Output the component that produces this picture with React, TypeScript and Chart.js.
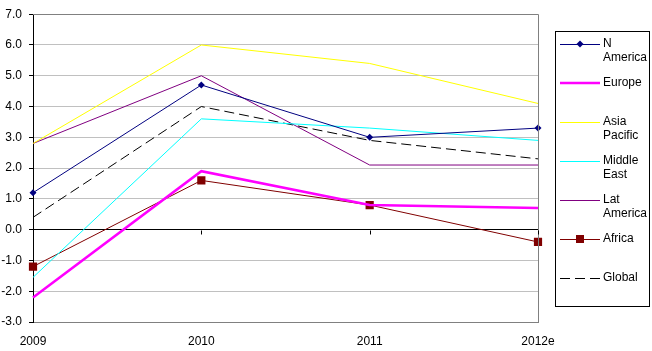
import React, { useEffect, useRef } from 'react';
import { Chart, registerables } from 'chart.js';

Chart.register(...registerables);

const categories = ['2009', '2010', '2011', '2012e'];
const nAmerica = [1.2, 4.7, 3.0, 3.3];
const europe = [-2.2, 1.9, 0.8, 0.7];
const asiaPacific = [2.8, 6.0, 5.4, 4.1];
const middleEast = [-1.55, 3.6, 3.3, 2.9];
const latAmerica = [2.8, 5.0, 2.1, 2.1];
const africa = [-1.2, 1.6, 0.8, -0.4];
const globalAvg = [0.4, 4.0, 2.9, 2.3];
const yMin = -3;
const yMax = 7;

const FONT = '"Liberation Sans", Arial, sans-serif';

const series = [
  { label: ['N', 'America'], data: nAmerica, color: '#000080', width: 1, point: 'rectRot', radius: 3.5, dash: [] as number[] },
  { label: ['Europe'], data: europe, color: '#FF00FF', width: 2.5, point: 'none', radius: 0, dash: [] as number[] },
  { label: ['Asia', 'Pacific'], data: asiaPacific, color: '#FFFF00', width: 1, point: 'none', radius: 0, dash: [] as number[] },
  { label: ['Middle', 'East'], data: middleEast, color: '#00FFFF', width: 1, point: 'none', radius: 0, dash: [] as number[] },
  { label: ['Lat', 'America'], data: latAmerica, color: '#800080', width: 1, point: 'none', radius: 0, dash: [] as number[] },
  { label: ['Africa'], data: africa, color: '#800000', width: 1, point: 'rect', radius: 5.8, dash: [] as number[] },
  { label: ['Global'], data: globalAvg, color: '#000000', width: 1, point: 'none', radius: 0, dash: [10, 5] },
];

const extrasPlugin = {
  id: 'extras',
  afterDraw(chart: any) {
    const ctx = chart.ctx;
    const area = chart.chartArea;
    const xs = chart.scales.x;
    const ys = chart.scales.y;
    ctx.save();
    // top and right border of plot area
    ctx.strokeStyle = '#808080';
    ctx.lineWidth = 1;
    const r = Math.round(area.right) + 0.5;
    const t = Math.round(area.top) + 0.5;
    ctx.beginPath();
    ctx.moveTo(area.left, t);
    ctx.lineTo(r, t);
    ctx.lineTo(r, area.bottom);
    ctx.stroke();
    // tick marks on the zero line
    const y0 = Math.round(ys.getPixelForValue(0)) + 0.5;
    ctx.strokeStyle = '#000';
    categories.forEach((_, i) => {
      const x = Math.round(xs.getPixelForValue(i)) + 0.5;
      ctx.beginPath();
      ctx.moveTo(x, y0);
      ctx.lineTo(x, y0 + 4);
      ctx.stroke();
    });
    // legend
    const boxL = 555.5, boxT = 31.5, boxW = 94, boxH = 275;
    ctx.strokeStyle = '#000';
    ctx.lineWidth = 1;
    ctx.strokeRect(boxL, boxT, boxW, boxH);
    ctx.font = `12px ${FONT}`;
    ctx.textBaseline = 'middle';
    ctx.textAlign = 'left';
    series.forEach((s, i) => {
      const y = 44 + i * 39;
      const ly = Math.round(y) + (s.width % 2 === 1 ? 0.5 : 0);
      ctx.save();
      ctx.strokeStyle = s.color;
      ctx.lineWidth = s.width;
      ctx.setLineDash(s.dash);
      ctx.beginPath();
      ctx.moveTo(560, ly);
      ctx.lineTo(600, ly);
      ctx.stroke();
      ctx.restore();
      if (s.point === 'rectRot') {
        ctx.fillStyle = s.color;
        ctx.beginPath();
        ctx.moveTo(580, y - s.radius);
        ctx.lineTo(580 + s.radius, y);
        ctx.lineTo(580, y + s.radius);
        ctx.lineTo(580 - s.radius, y);
        ctx.closePath();
        ctx.fill();
      } else if (s.point === 'rect') {
        ctx.fillStyle = s.color;
        ctx.fillRect(576, y - 4, 8, 8);
      }
      ctx.fillStyle = '#000';
      s.label.forEach((tx, j) => {
        ctx.fillText(tx, 603, y + j * 14);
      });
    });
    ctx.restore();
  },
};

export default function App() {
  const canvasRef = useRef<HTMLCanvasElement | null>(null);

  useEffect(() => {
    document.body.style.margin = '0';
    const canvas = canvasRef.current;
    if (!canvas) return;
    const chart = new Chart(canvas, {
      type: 'line',
      data: {
        labels: categories,
        datasets: series.map((s) => ({
          label: s.label.join(' '),
          data: s.data,
          borderColor: s.color,
          backgroundColor: s.color,
          borderWidth: s.width,
          borderDash: s.dash,
          pointStyle: s.point === 'none' ? false : (s.point as any),
          pointRadius: s.radius,
          pointBorderWidth: 0,
          pointBackgroundColor: s.color,
          pointBorderColor: s.color,
          tension: 0,
          fill: false,
        })),
      },
      options: {
        animation: false,
        responsive: false,
        maintainAspectRatio: false,
        events: [],
        layout: { padding: { top: 14, right: 114, left: 0, bottom: 0 } },
        plugins: {
          legend: { display: false },
          tooltip: { enabled: false },
        },
        scales: {
          x: {
            type: 'category',
            offset: false,
            grid: { display: false, drawTicks: false },
            border: { display: true, color: '#808080', width: 1 },
            ticks: {
              color: '#000',
              font: { family: FONT, size: 12 },
              padding: 12,
              maxRotation: 0,
              autoSkip: false,
            },
            afterFit: (scale: any) => {
              scale.height = 29;
            },
          },
          y: {
            min: yMin,
            max: yMax,
            grid: {
              color: (c: any) => (c.tick && c.tick.value === 0 ? '#000000' : '#c0c0c0'),
              tickColor: '#000',
              tickLength: 4,
              drawTicks: true,
            },
            border: { display: true, color: '#000', width: 1 },
            ticks: {
              stepSize: 1,
              color: '#000',
              font: { family: FONT, size: 12 },
              padding: 7,
              callback: (v: any) => Number(v).toFixed(1),
            },
            afterFit: (scale: any) => {
              scale.width = 33;
            },
          },
        },
      },
      plugins: [extrasPlugin],
    });
    return () => chart.destroy();
  }, []);

  return (
    <div style={{ width: 652, height: 351, position: 'relative' }}>
      <canvas ref={canvasRef} width={652} height={351} style={{ display: 'block' }} />
    </div>
  );
}
